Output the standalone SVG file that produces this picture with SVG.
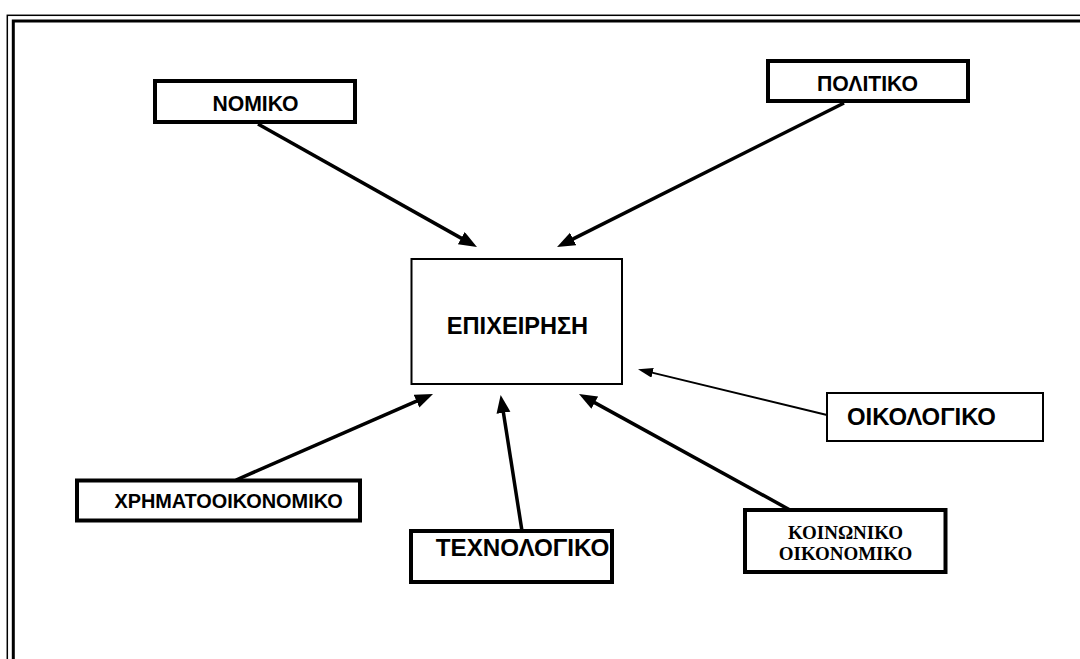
<svg xmlns="http://www.w3.org/2000/svg" width="1080" height="659" viewBox="0 0 1080 659">
<style>
.box{fill:#fff;stroke:#000;stroke-width:4}
.thin{fill:#fff;stroke:#000;stroke-width:2}
.lbl{font-family:"Liberation Sans",Arial,sans-serif;font-weight:bold;fill:#000}
.ser{font-family:"Liberation Serif","Times New Roman",serif;font-weight:bold;fill:#000;font-size:19px}
.con{stroke:#000;stroke-width:3.5;fill:none}
.con2{stroke:#000;stroke-width:2;fill:none}
</style>
<defs>
<marker id="ah" markerUnits="userSpaceOnUse" markerWidth="20" markerHeight="16" refX="10" refY="7" orient="auto">
<path d="M0,0 L18,7 L0,14 z" fill="#000"/>
</marker>
<marker id="ah2" markerUnits="userSpaceOnUse" markerWidth="16" markerHeight="12" refX="8" refY="5" orient="auto">
<path d="M0,0 L15,5 L0,10 z" fill="#000"/>
</marker>
</defs>
<rect width="1080" height="659" fill="#fff"/>
<g id="frame" fill="none" stroke="#000">
<rect x="7.3" y="15.3" width="1100" height="700" stroke-width="1.5"/>
<rect x="13.3" y="21" width="1100" height="700" stroke-width="3"/>
</g>
<g id="connectors">
<path class="con" d="M258,124 L470,243.1" marker-end="url(#ah)"/>
<path class="con" d="M844,103 L564.2,243.4" marker-end="url(#ah)"/>
<path class="con2" d="M827,415 L644.8,370.9" marker-end="url(#ah2)"/>
<path class="con" d="M790,510 L586,397.9" marker-end="url(#ah)"/>
<path class="con" d="M522,531 L501.9,402.9" marker-end="url(#ah)"/>
<path class="con" d="M236,480 L425.7,397.2" marker-end="url(#ah)"/>
</g>
<g id="nomiko">
<rect class="box" x="155" y="81" width="200" height="41"/>
<text class="lbl" x="255.5" y="110.7" font-size="21.2" text-anchor="middle">ΝΟΜΙΚΟ</text>
</g>
<g id="politiko">
<rect class="box" x="768" y="61" width="200" height="40"/>
<text class="lbl" x="867.5" y="90.7" font-size="21.2" text-anchor="middle">ΠΟΛΙΤΙΚΟ</text>
</g>
<g id="epixeirisi">
<rect class="thin" x="411.5" y="259" width="210.5" height="125"/>
<text class="lbl" x="517.5" y="333.5" font-size="23.6" text-anchor="middle">ΕΠΙΧΕΙΡΗΣΗ</text>
</g>
<g id="oikologiko">
<rect class="thin" x="827" y="393" width="216" height="48"/>
<text class="lbl" x="847" y="425" font-size="23.9">ΟΙΚΟΛΟΓΙΚΟ</text>
</g>
<g id="xrimatooikonomiko">
<rect class="box" x="77" y="480.5" width="283" height="40"/>
<text class="lbl" x="228.5" y="507.5" font-size="19.9" text-anchor="middle">ΧΡΗΜΑΤΟΟΙΚΟΝΟΜΙΚΟ</text>
</g>
<g id="texnologiko">
<rect class="box" x="411" y="531" width="201" height="51"/>
<text class="lbl" x="522.5" y="555.5" font-size="24.2" text-anchor="middle">ΤΕΧΝΟΛΟΓΙΚΟ</text>
</g>
<g id="koinoniko">
<rect class="box" x="745" y="510" width="200.5" height="62"/>
<text class="ser" x="845.5" y="539.3" text-anchor="middle">ΚΟΙΝΩΝΙΚΟ</text>
<text class="ser" x="845.5" y="559.5" text-anchor="middle">ΟΙΚΟΝΟΜΙΚΟ</text>
</g>
</svg>
